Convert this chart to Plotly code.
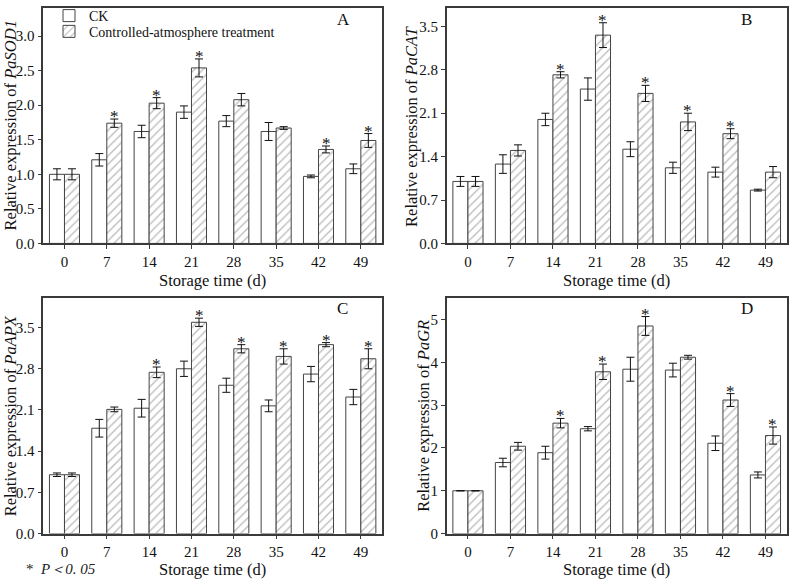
import plotly.graph_objects as go

# ---------------- data ----------------
days = ["0", "7", "14", "21", "28", "35", "42", "49"]

sod_ck = [1.00, 1.21, 1.62, 1.90, 1.77, 1.62, 0.97, 1.08]
sod_ck_err = [0.08, 0.09, 0.09, 0.09, 0.08, 0.13, 0.02, 0.07]
sod_ca = [1.00, 1.74, 2.03, 2.54, 2.08, 1.67, 1.36, 1.49]
sod_ca_err = [0.08, 0.06, 0.08, 0.13, 0.09, 0.02, 0.05, 0.10]
sod_sig = [0, 1, 1, 1, 0, 0, 1, 1]

cat_ck = [1.00, 1.28, 2.00, 2.49, 1.52, 1.22, 1.15, 0.86]
cat_ck_err = [0.08, 0.15, 0.10, 0.18, 0.12, 0.09, 0.08, 0.015]
cat_ca = [1.00, 1.50, 2.72, 3.36, 2.42, 1.96, 1.77, 1.15]
cat_ca_err = [0.08, 0.09, 0.05, 0.20, 0.13, 0.14, 0.08, 0.09]
cat_sig = [0, 0, 1, 1, 1, 1, 1, 0]

apx_ck = [1.00, 1.79, 2.13, 2.80, 2.52, 2.17, 2.71, 2.32]
apx_ck_err = [0.03, 0.15, 0.15, 0.13, 0.12, 0.10, 0.13, 0.13]
apx_ca = [1.00, 2.11, 2.74, 3.59, 3.14, 3.01, 3.21, 2.97]
apx_ca_err = [0.03, 0.04, 0.09, 0.07, 0.07, 0.13, 0.035, 0.17]
apx_sig = [0, 0, 1, 1, 1, 1, 1, 1]

gr_ck = [1.00, 1.66, 1.89, 2.45, 3.84, 3.82, 2.11, 1.37]
gr_ck_err = [0.0, 0.10, 0.15, 0.05, 0.28, 0.16, 0.17, 0.07]
gr_ca = [1.00, 2.04, 2.58, 3.78, 4.85, 4.12, 3.12, 2.29]
gr_ca_err = [0.0, 0.09, 0.11, 0.18, 0.22, 0.045, 0.15, 0.20]
gr_sig = [0, 0, 1, 1, 1, 0, 1, 1]

gene_names = ["PaSOD1", "PaCAT", "PaAPX", "PaGR"]
panel_letters = ["A", "B", "C", "D"]
y_ticks = [
    [0.0, 0.5, 1.0, 1.5, 2.0, 2.5, 3.0],
    [0.0, 0.7, 1.4, 2.1, 2.8, 3.5],
    [0.0, 0.7, 1.4, 2.1, 2.8, 3.5],
    [0, 1, 2, 3, 4, 5],
]
y_tick_text = [
    ["0.0", "0.5", "1.0", "1.5", "2.0", "2.5", "3.0"],
    ["0.0", "0.7", "1.4", "2.1", "2.8", "3.5"],
    ["0.0", "0.7", "1.4", "2.1", "2.8", "3.5"],
    ["0", "1", "2", "3", "4", "5"],
]
y_ranges = [[0, 3.4], [0, 3.79], [0, 4.0], [0, 5.5]]

series_names = ["CK", "Controlled-atmosphere treatment"]
x_title = "Storage time (d)"
footnote = "*  <i>P＜0. 05</i>"

panels = [
    (sod_ck, sod_ck_err, sod_ca, sod_ca_err, sod_sig),
    (cat_ck, cat_ck_err, cat_ca, cat_ca_err, cat_sig),
    (apx_ck, apx_ck_err, apx_ca, apx_ca_err, apx_sig),
    (gr_ck, gr_ck_err, gr_ca, gr_ca_err, gr_sig),
]

# ---------------- style / layout ----------------
W, H = 789, 581          # reference frame (positions below are in these pixels)
FIG_H = 589              # figure height (the capture squeezes it to 581 rows)
FONT = "Liberation Serif"
LINE = "#3a3a3a"
BARLINE = "#444444"
HATCH = "#777777"
BARGAP = 0.29

x_domains = [[43.3 / W, 382 / W], [446.7 / W, 786.7 / W],
             [43.3 / W, 382 / W], [446.7 / W, 786.7 / W]]
y_domains = [[1 - 239.3 / H, 1 - 1.5 / H], [1 - 239.3 / H, 1 - 1.5 / H],
             [1 - 533.0 / H, 1 - 294.7 / H], [1 - 533.0 / H, 1 - 294.7 / H]]
ytitle_x = [10.5, 412, 10.5, 424]
xtitle_y = [276.7, 276.7, 569, 569]
letter_pos = [(343, 13), (746.7, 13), (342.7, 305), (746.7, 305)]

fig = go.Figure()
annotations = []
layout = {}

for i, (ck, ck_e, ca, ca_e, sig) in enumerate(panels):
    sfx = "" if i == 0 else str(i + 1)
    xa, ya = "x" + sfx, "y" + sfx
    fig.add_trace(go.Bar(
        x=days, y=ck, name=series_names[0], xaxis=xa, yaxis=ya,
        marker=dict(color="white", line=dict(color=BARLINE, width=1)),
        error_y=dict(type="data", array=ck_e, visible=True, color="#111",
                     thickness=1, width=4),
        showlegend=(i == 0), legend="legend",
    ))
    fig.add_trace(go.Bar(
        x=days, y=ca, name=series_names[1], xaxis=xa, yaxis=ya,
        marker=dict(color="white", line=dict(color=BARLINE, width=1),
                    pattern=dict(shape="/", fgcolor=HATCH, bgcolor="white",
                                 size=6, solidity=0.22)),
        error_y=dict(type="data", array=ca_e, visible=True, color="#111",
                     thickness=1, width=4),
        showlegend=(i == 0), legend="legend2",
    ))
    layout["xaxis" + sfx] = dict(
        domain=x_domains[i], anchor=ya, type="category",
        range=[-0.5, len(days) - 0.5], showline=True, linecolor=LINE,
        linewidth=1.5, mirror=True, ticks="outside", ticklen=4,
        tickcolor=LINE, tickfont=dict(family=FONT, size=15, color="#111"),
        showgrid=False, zeroline=False,
    )
    layout["yaxis" + sfx] = dict(
        domain=y_domains[i], anchor=xa, range=y_ranges[i],
        tickvals=y_ticks[i], ticktext=y_tick_text[i],
        showline=True, linecolor=LINE, linewidth=1.5, mirror=True,
        ticks="outside", ticklen=4, tickcolor=LINE,
        tickfont=dict(family=FONT, size=15, color="#111"),
        showgrid=False, zeroline=False,
    )
    # significance asterisks above treatment bars
    off = (1 - BARGAP) / 4
    for j, s in enumerate(sig):
        if s:
            annotations.append(dict(
                x=j + off, y=ca[j] + ca_e[j], xref=xa, yref=ya,
                text="*", showarrow=False, yanchor="bottom", yshift=-9,
                font=dict(family=FONT, size=17, color="#111"),
            ))
    # y-axis title
    yd = y_domains[i]
    annotations.append(dict(
        x=ytitle_x[i] / W, y=(yd[0] + yd[1]) / 2, xref="paper", yref="paper",
        text="Relative expression of <i>%s</i>" % gene_names[i],
        textangle=-90, showarrow=False, xanchor="center", yanchor="middle",
        font=dict(family=FONT, size=16.5, color="#111"),
    ))
    # x-axis title
    xd = x_domains[i]
    annotations.append(dict(
        x=(xd[0] + xd[1]) / 2, y=1 - xtitle_y[i] / H, xref="paper", yref="paper",
        text=x_title, showarrow=False, xanchor="center", yanchor="middle",
        font=dict(family=FONT, size=16.5, color="#111"),
    ))
    # panel letter
    lx, ly = letter_pos[i]
    annotations.append(dict(
        x=lx / W, y=1 - ly / H, xref="paper", yref="paper",
        text=panel_letters[i], showarrow=False, xanchor="center", yanchor="middle",
        font=dict(family=FONT, size=17, color="#111"),
    ))

annotations.append(dict(
    x=24 / W, y=1 - 569 / H, xref="paper", yref="paper", text=footnote,
    showarrow=False, xanchor="left", yanchor="middle",
    font=dict(family=FONT, size=15, color="#222"),
))

legend_common = dict(xanchor="left", yanchor="top", bgcolor="rgba(0,0,0,0)",
                     font=dict(family=FONT, size=14, color="#111"),
                     itemwidth=30)

fig.update_layout(
    width=W, height=FIG_H, autosize=False,
    margin=dict(l=0, r=0, t=0, b=0),
    paper_bgcolor="white", plot_bgcolor="white",
    barmode="group", bargap=BARGAP, bargroupgap=0,
    font=dict(family=FONT, color="#111"),
    legend=dict(x=49 / W, y=1 + 7.5 / FIG_H, **legend_common),
    legend2=dict(x=49 / W, y=1 - 9.0 / FIG_H, **legend_common),
    annotations=annotations,
    **layout,
)

# remove the default page margin so the figure fills the window exactly
page_fix = """
document.documentElement.style.margin = '0';
document.body.style.margin = '0';
document.documentElement.style.overflow = 'hidden';
document.body.style.overflow = 'hidden';
"""
fig.write_html("out.html", post_script=page_fix)
